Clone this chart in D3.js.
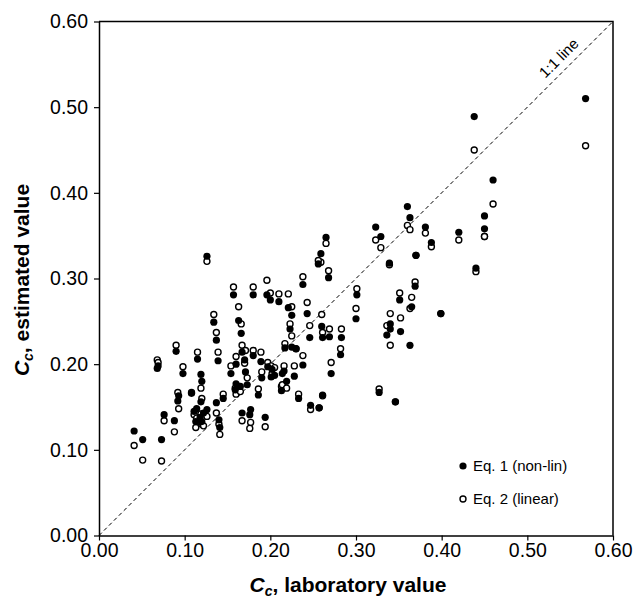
<!DOCTYPE html>
<html>
<head>
<meta charset="utf-8">
<script src="https://cdn.jsdelivr.net/npm/d3@7"></script>
<style>
  body { margin: 0; background: #fff; }
  svg { display: block; font-family: Arial, "Liberation Sans", sans-serif; }
  .tick text { font-size: 19.5px; fill: #000; }
</style>
</head>
<body>
<div id="chart"></div>
<script>
// laboratory Cc (x) and estimated Cc from Eq. 1 (non-lin) and Eq. 2 (linear)
const labValues = [
  0.041, 0.051, 0.073, 0.076, 0.088, 0.068, 0.069, 0.090, 0.098, 0.092,
  0.093, 0.108, 0.115, 0.111, 0.113, 0.119, 0.120, 0.119, 0.126, 0.126,
  0.120, 0.134, 0.137, 0.139, 0.137, 0.140, 0.141, 0.145, 0.157, 0.154,
  0.160, 0.160, 0.159, 0.163, 0.166, 0.167, 0.170, 0.171, 0.173, 0.167,
  0.180, 0.180, 0.177, 0.176, 0.186, 0.189, 0.190, 0.194, 0.196, 0.200,
  0.197, 0.201, 0.210, 0.213, 0.216, 0.217, 0.214, 0.219, 0.221, 0.223,
  0.225, 0.225, 0.228, 0.233, 0.230, 0.238, 0.238, 0.243, 0.246, 0.247,
  0.257, 0.259, 0.256, 0.260, 0.261, 0.265, 0.261, 0.268, 0.269, 0.271,
  0.283, 0.282, 0.301, 0.300, 0.323, 0.329, 0.327, 0.339, 0.336, 0.340,
  0.340, 0.346, 0.352, 0.351, 0.360, 0.363, 0.363, 0.365, 0.370, 0.369,
  0.381, 0.388, 0.399, 0.420, 0.438, 0.440, 0.450, 0.450, 0.460, 0.568,
  0.114, 0.118, 0.122, 0.165, 0.205, 0.202
];
const eq1Values = [
  0.122, 0.112, 0.112, 0.141, 0.134, 0.195, 0.198, 0.215, 0.189, 0.157,
  0.163, 0.166, 0.206, 0.145, 0.133, 0.188, 0.180, 0.156, 0.326, 0.147,
  0.133, 0.249, 0.228, 0.204, 0.155, 0.135, 0.126, 0.160, 0.281, 0.189,
  0.200, 0.177, 0.170, 0.251, 0.236, 0.214, 0.205, 0.191, 0.176, 0.143,
  0.281, 0.210, 0.147, 0.141, 0.164, 0.203, 0.184, 0.138, 0.281, 0.275,
  0.197, 0.185, 0.273, 0.169, 0.192, 0.219, 0.189, 0.180, 0.266, 0.241,
  0.257, 0.220, 0.186, 0.160, 0.218, 0.293, 0.199, 0.259, 0.231, 0.152,
  0.149, 0.329, 0.317, 0.244, 0.164, 0.348, 0.231, 0.301, 0.232, 0.189,
  0.231, 0.211, 0.281, 0.253, 0.360, 0.349, 0.167, 0.318, 0.234, 0.241,
  0.247, 0.156, 0.238, 0.275, 0.384, 0.371, 0.222, 0.267, 0.327, 0.291,
  0.360, 0.342, 0.259, 0.354, 0.489, 0.312, 0.373, 0.358, 0.415, 0.510,
  0.148, 0.138, 0.143, 0.174, 0.187, 0.194
];
const eq2Values = [
  0.105, 0.088, 0.087, 0.134, 0.121, 0.205, 0.202, 0.222, 0.197, 0.167,
  0.148, 0.167, 0.214, 0.141, 0.126, 0.172, 0.160, 0.142, 0.320, 0.139,
  0.130, 0.258, 0.237, 0.214, 0.143, 0.130, 0.118, 0.165, 0.290, 0.198,
  0.209, 0.165, 0.172, 0.267, 0.247, 0.222, 0.201, 0.216, 0.184, 0.134,
  0.290, 0.216, 0.132, 0.125, 0.171, 0.214, 0.191, 0.127, 0.298, 0.283,
  0.202, 0.198, 0.282, 0.174, 0.198, 0.224, 0.176, 0.172, 0.282, 0.247,
  0.267, 0.233, 0.198, 0.165, 0.218, 0.302, 0.210, 0.272, 0.245, 0.147,
  0.149, 0.319, 0.321, 0.258, 0.163, 0.341, 0.237, 0.309, 0.241, 0.202,
  0.241, 0.218, 0.288, 0.265, 0.345, 0.336, 0.171, 0.316, 0.245, 0.259,
  0.222, 0.156, 0.254, 0.283, 0.362, 0.357, 0.265, 0.278, 0.327, 0.296,
  0.353, 0.337, 0.259, 0.345, 0.450, 0.308, 0.349, 0.349, 0.387, 0.455,
  0.137, 0.133, 0.128, 0.168, 0.196, 0.189
];
const tickValues = [0, 0.1, 0.2, 0.3, 0.4, 0.5, 0.6];
const legendLabels = ["Eq. 1 (non-lin)", "Eq. 2 (linear)"];

const W = 633, H = 601;
const margin = { top: 21.5, right: 20, bottom: 65.5, left: 99 };

const svg = d3.select("#chart").append("svg")
  .attr("width", W).attr("height", H);

const x = d3.scaleLinear().domain([0, 0.6]).range([margin.left, W - margin.right]);
const y = d3.scaleLinear().domain([0, 0.6]).range([H - margin.bottom, margin.top]);

const fmt = d3.format(".2f");

// axes
svg.append("g")
  .attr("transform", `translate(0,${y(0)})`)
  .call(d3.axisBottom(x).tickValues(tickValues).tickFormat(fmt).tickSize(5).tickSizeOuter(0).tickPadding(3))
  .call(g => g.select(".domain").attr("stroke-width", 1.5))
  .call(g => g.selectAll(".tick line").attr("stroke-width", 1.2));

svg.append("g")
  .attr("transform", `translate(${x(0)},0)`)
  .call(d3.axisLeft(y).tickValues(tickValues).tickFormat(fmt).tickSize(5).tickSizeOuter(0).tickPadding(6))
  .call(g => g.select(".domain").attr("stroke-width", 1.5))
  .call(g => g.selectAll(".tick line").attr("stroke-width", 1.2));

// frame top and right
svg.append("path")
  .attr("d", `M${x(0)},${y(0.6)}H${x(0.6)}V${y(0)}`)
  .attr("fill", "none").attr("stroke", "#000").attr("stroke-width", 1.5);

// 1:1 line
svg.append("line")
  .attr("x1", x(0)).attr("y1", y(0)).attr("x2", x(0.6)).attr("y2", y(0.6))
  .attr("stroke", "#000").attr("stroke-width", 1).attr("stroke-dasharray", "4,3");

svg.append("text")
  .attr("transform", `translate(${x(0.541)},${y(0.553)}) rotate(-45)`)
  .attr("text-anchor", "middle")
  .style("font-size", "15px")
  .text("1:1 line");

const pts = labValues.map((v, i) => ({ lab: v, e1: eq1Values[i], e2: eq2Values[i] }));

// open circles under the filled ones
svg.append("g").selectAll("circle")
  .data(pts).join("circle")
  .attr("cx", d => x(d.lab)).attr("cy", d => y(d.e2))
  .attr("r", 3).attr("fill", "#fff").attr("stroke", "#000").attr("stroke-width", 1.4);

svg.append("g").selectAll("circle")
  .data(pts).join("circle")
  .attr("cx", d => x(d.lab)).attr("cy", d => y(d.e1))
  .attr("r", 3.6).attr("fill", "#000");

// legend
const leg = svg.append("g").attr("transform", "translate(463,466)");
leg.append("circle").attr("cx", 0).attr("cy", 0).attr("r", 3.6).attr("fill", "#000");
leg.append("circle").attr("cx", 0).attr("cy", 33).attr("r", 3).attr("fill", "#fff")
  .attr("stroke", "#000").attr("stroke-width", 1.4);
leg.selectAll("text").data(legendLabels).join("text")
  .attr("x", 10).attr("y", (d, i) => i * 33).attr("dy", "0.35em")
  .style("font-size", "15px").text(d => d);

// axis titles
const xt = svg.append("text")
  .attr("x", 348).attr("y", 592)
  .attr("text-anchor", "middle")
  .style("font-size", "21px").style("font-weight", "bold");
xt.append("tspan").style("font-style", "italic").text("C");
xt.append("tspan").attr("dy", 4).style("font-size", "14px").style("font-style", "italic").text("c");
xt.append("tspan").attr("dy", -4).text(", laboratory value");

const yt = svg.append("text")
  .attr("transform", `translate(29,280) rotate(-90)`)
  .attr("text-anchor", "middle")
  .style("font-size", "21px").style("font-weight", "bold");
yt.append("tspan").style("font-style", "italic").text("C");
yt.append("tspan").attr("dy", 4).style("font-size", "14px").style("font-style", "italic").text("c");
yt.append("tspan").attr("dy", -4).text(", estimated value");
</script>
</body>
</html>
